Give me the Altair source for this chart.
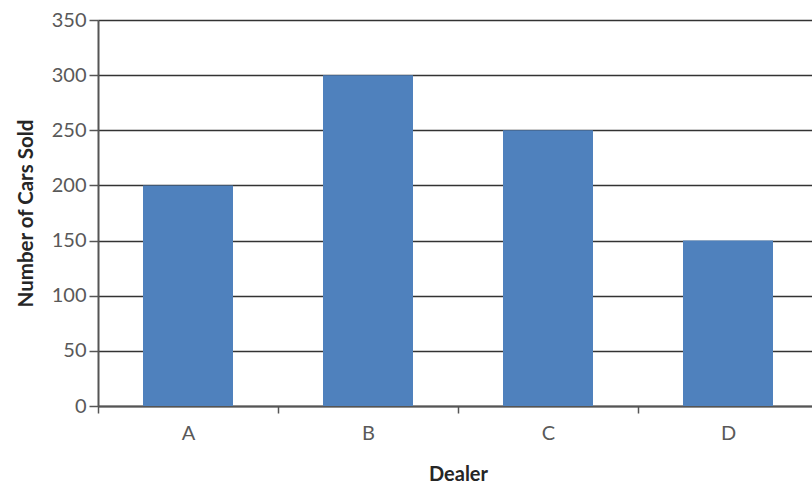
import altair as alt
import pandas as pd

dealers = ["A", "B", "C", "D"]
cars_sold = [200, 300, 250, 150]

df = pd.DataFrame({"Dealer": dealers, "Cars": cars_sold})

font = "Lato"

chart = alt.Chart(df).mark_bar(color="#4F81BD", width=alt.RelativeBandSize(0.5)).encode(
    x=alt.X("Dealer:N", sort=dealers,
            scale=alt.Scale(range=[0, 720], paddingInner=0, paddingOuter=0),
            axis=alt.Axis(title="Dealer", labelAngle=0, tickBand="extent",
                          tickSize=7, tickColor="#555555", tickWidth=1.5,
                          domainColor="#555555", domainWidth=2,
                          labelPadding=10, labelFontSize=20, labelColor="#595959",
                          labelFont=font, titleFont=font, titleFontSize=20,
                          titleFontWeight="bold", titleColor="#262626",
                          titlePadding=21, grid=False)),
    y=alt.Y("Cars:Q", scale=alt.Scale(domain=[0, 350], nice=False),
            axis=alt.Axis(title="Number of Cars Sold", values=list(range(0, 351, 50)),
                          tickSize=9, tickColor="#555555", tickWidth=1.5,
                          domainColor="#555555", domainWidth=2,
                          labelPadding=3, labelFontSize=20, labelColor="#595959",
                          labelFont=font, titleFont=font, titleFontSize=20.5,
                          titleFontWeight="bold", titleColor="#262626",
                          titlePadding=15, grid=True, gridColor="#333333",
                          gridWidth=1.5)),
).properties(
    width=714, height=386,
    autosize=alt.AutoSizeParams(type="none"),
    padding={"left": 98, "top": 20, "right": 0, "bottom": 79},
).configure_view(stroke=None).configure(background="white")

chart.save("out.html", embed_options={"renderer": "svg", "actions": False})
